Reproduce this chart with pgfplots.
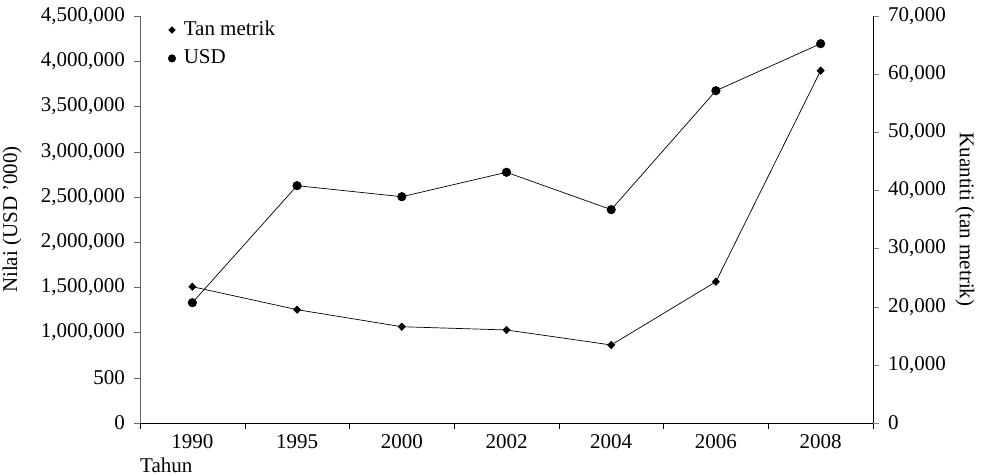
\documentclass[border=0pt]{standalone}
\usepackage{fontspec}
\setmainfont{Liberation Serif}
\usepackage{pgfplots}
\pgfplotsset{compat=1.18}
\newcommand\f{\fontsize{21bp}{24bp}\selectfont}
\begin{document}
\f
\begin{tikzpicture}
\pgfplotsset{
  base/.style={
    at={(140bp,53bp)}, anchor=south west,
    scale only axis, width=733bp, height=407bp,
    xmin=-0.5, xmax=6.5, ymin=0,
    tick align=outside,
    major tick length=6bp, minor tick length=6bp,
    tick label style={font=\f},
    label style={font=\f},
    scaled y ticks=false,
    /pgf/number format/assume math mode=true,
    clip=false,
  }
}
\begin{axis}[base,
  ymax=4500000,
  axis x line*=bottom, axis y line*=left,
  y axis line style={draw=black!60},
  x axis line style={draw=black},
  xtick={0,...,6},
  xticklabels={1990,1995,2000,2002,2004,2006,2008},
  major x tick style={draw=none},
  minor xtick={-0.5,0.5,...,6.5},
  minor x tick style={draw=black},
  ytick={0,500000,1000000,1500000,2000000,2500000,3000000,3500000,4000000,4500000},
  yticklabels={0,500,{1,000,000},{1,500,000},{2,000,000},{2,500,000},{3,000,000},{3,500,000},{4,000,000},{4,500,000}},
  y tick style={draw=black!60},
  yticklabel style={xshift=-2bp},
  xticklabel style={yshift=2bp},
  ylabel={Nilai (USD '000)},
  ylabel style={at={(axis description cs:-0.1746,0.5)}, anchor=center, rotate=0},
  xlabel={Tahun},
  xlabel style={at={(axis description cs:0,0)}, anchor=base west, xshift=-1bp, yshift=-49bp, inner sep=1bp},
  legend style={at={(0,1)}, anchor=north west, xshift=28bp, yshift=-4bp, draw=none, fill=none, font=\f, row sep=9bp, inner sep=0bp, nodes={inner xsep=3bp, inner ysep=1bp}},
  legend cell align=left,
]
\addlegendimage{only marks, mark=diamond*, mark size=3.4bp, mark options={xscale=1.3}, black}
\addlegendentry{\hspace{5bp}Tan metrik}
\addlegendimage{only marks, mark=*, mark size=3.8bp, black}
\addlegendentry{\hspace{5bp}USD}
\addplot[black, line width=0.7bp, mark=*, mark size=4.2bp, mark options={solid, fill=black}, forget plot] coordinates {
  (0,1330000) (1,2624000) (2,2502000) (3,2772000) (4,2359000) (5,3674000) (6,4194000)
};
\end{axis}
\begin{axis}[base,
  ymax=70000,
  axis x line=none, axis y line*=right,
  y axis line style={draw=black},
  ytick={0,10000,20000,30000,40000,50000,60000,70000},
  yticklabels={0,{10,000},{20,000},{30,000},{40,000},{50,000},{60,000},{70,000}},
  yticklabel style={xshift=2bp},
  ylabel={Kuantiti (tan metrik)},
  ylabel style={at={(axis description cs:1.1255,0.5)}, anchor=center, rotate=180},
]
\addplot[black, line width=0.7bp, mark=diamond*, mark size=3.6bp, mark options={solid, fill=black, xscale=1.3}] coordinates {
  (0,23440) (1,19490) (2,16560) (3,16000) (4,13420) (5,24300) (6,60600)
};
\end{axis}
\pgfresetboundingbox
\useasboundingbox (0,0) rectangle (981bp,476bp);
\end{tikzpicture}
\end{document}
